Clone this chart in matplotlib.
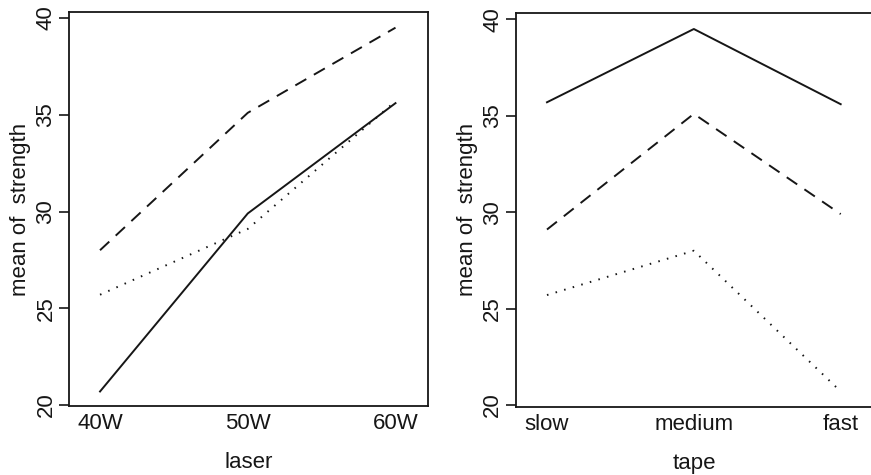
import matplotlib
matplotlib.use("Agg")
import matplotlib.pyplot as plt
import numpy as np

# cell means of strength, one list per tape speed, ordered by laser power
laser_levels = ["40W", "50W", "60W"]
tape_levels = ["slow", "medium", "fast"]
slow_means = [25.7, 29.1, 35.7]
medium_means = [28.0, 35.1, 39.5]
fast_means = [20.7, 29.9, 35.6]
y_ticks = [20, 25, 30, 35, 40]

plt.rcParams['font.family'] = ['Liberation Sans', 'DejaVu Sans']
ink = "#161616"
fs = 16

# line styles for the three trace levels (solid, dashed, dotted as in R lty 1,2,3)
styles = [
    dict(linestyle="-"),
    dict(linestyle=(0, (6.5, 4.5))),
    dict(linestyle=(0, (0.8, 3.8))),
]

fig = plt.figure(figsize=(8.71, 4.75), dpi=100)
ax1 = fig.add_axes([69 / 871, 1 - 406 / 475, 359 / 871, 394 / 475])
ax2 = fig.add_axes([515.7 / 871, 1 - 406.7 / 475, 357.3 / 871, 393.7 / 475])

table = np.array([slow_means, medium_means, fast_means])  # rows: tape, cols: laser
x = np.arange(1, 4)

# left panel: x = laser, one trace per tape speed (fast solid, medium dashed, slow dotted)
for row, st in zip([2, 1, 0], styles):
    ax1.plot(x, table[row], color=ink, lw=1.4, **st)

# right panel: x = tape, one trace per laser power (60W solid, 50W dashed, 40W dotted)
for col, st in zip([2, 1, 0], styles):
    ax2.plot(x, table[:, col], color=ink, lw=1.4, **st)

for ax, labels, xlab, ylim, xlim in [
    (ax1, laser_levels, "laser", (19.95, 40.31), (0.79, 3.22)),
    (ax2, tape_levels, "tape", (19.91, 40.33), (0.787, 3.22)),
]:
    ax.set_xlim(*xlim)
    ax.set_ylim(*ylim)
    ax.set_xticks(x)
    ax.set_xticklabels(labels)
    ax.set_yticks(y_ticks)
    ax.set_yticklabels([str(v) for v in y_ticks], rotation=90, va="center")
    ax.tick_params(axis="x", length=0, pad=5, labelsize=fs, colors=ink)
    ax.tick_params(axis="y", length=7, width=1.2, pad=2, labelsize=fs, colors=ink)
    for sp in ax.spines.values():
        sp.set_linewidth(1.3)
        sp.set_color(ink)
    ax.set_xlabel(xlab, fontsize=fs, color=ink, labelpad=13)
    ax.set_ylabel("mean of  strength", fontsize=fs, color=ink, labelpad=3)

fig.savefig("out.png", dpi=100)
